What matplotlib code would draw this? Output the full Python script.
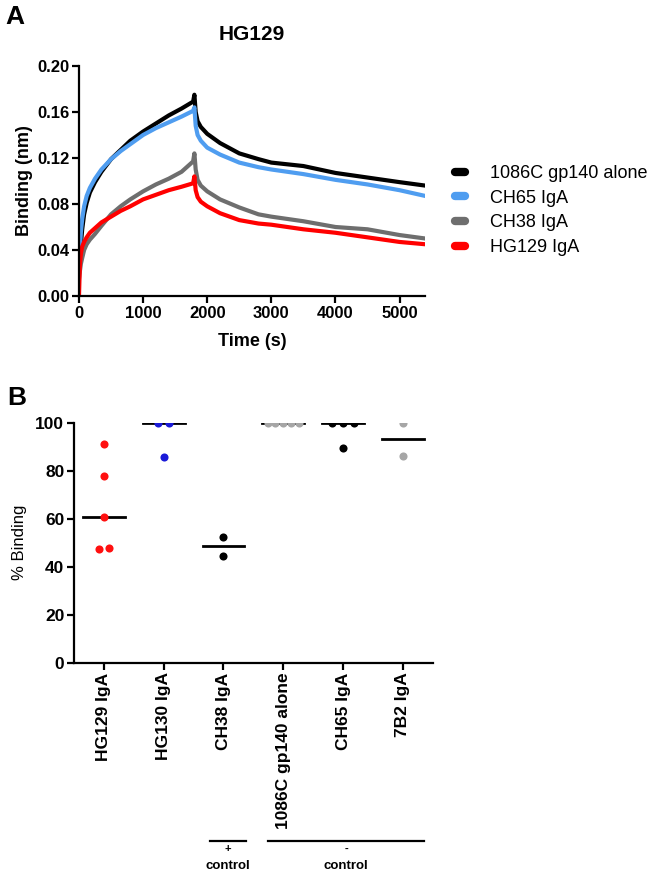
import numpy as np
import matplotlib
matplotlib.use("Agg")
import matplotlib.pyplot as plt
import matplotlib.transforms as mtransforms

plt.rcParams['font.family'] = ['Liberation Sans', 'DejaVu Sans']

# ---- Panel A: binding kinetics ----
time_s = [0, 15, 30, 50, 80, 120, 170, 250, 350, 500, 650, 800, 1000, 1200,
          1400, 1600, 1780, 1800, 1820, 1850, 1900, 2000, 2200, 2500, 2800,
          3000, 3500, 4000, 4500, 5000, 5400]
gp140_alone = [0.020, 0.033, 0.045, 0.058, 0.071, 0.081, 0.090, 0.099, 0.108,
               0.119, 0.127, 0.135, 0.143, 0.150, 0.157, 0.163, 0.169, 0.175,
               0.160, 0.152, 0.147, 0.141, 0.133, 0.124, 0.119, 0.116, 0.113,
               0.107, 0.103, 0.099, 0.096]
ch65_iga = [0.020, 0.042, 0.056, 0.067, 0.078, 0.087, 0.094, 0.102, 0.110,
            0.119, 0.126, 0.132, 0.140, 0.146, 0.151, 0.156, 0.161, 0.164,
            0.148, 0.140, 0.135, 0.129, 0.123, 0.116, 0.112, 0.110, 0.106,
            0.101, 0.097, 0.092, 0.087]
ch38_iga = [0.015, 0.022, 0.028, 0.033, 0.040, 0.045, 0.049, 0.054, 0.061,
            0.071, 0.078, 0.084, 0.091, 0.097, 0.102, 0.108, 0.117, 0.124,
            0.110, 0.101, 0.096, 0.091, 0.084, 0.077, 0.071, 0.069, 0.065,
            0.060, 0.058, 0.053, 0.050]
hg129_iga = [0.000, 0.028, 0.037, 0.043, 0.047, 0.051, 0.055, 0.059, 0.064,
             0.069, 0.074, 0.078, 0.084, 0.088, 0.092, 0.095, 0.098, 0.104,
             0.092, 0.086, 0.082, 0.078, 0.072, 0.066, 0.063, 0.062, 0.058,
             0.055, 0.051, 0.047, 0.045]
trace_labels = ['1086C gp140 alone', 'CH65 IgA', 'CH38 IgA', 'HG129 IgA']
trace_colors = ['#000000', '#4f9df0', '#6e6e6e', '#ff0000']

# ---- Panel B: % binding ----
groups = ['HG129 IgA', 'HG130 IgA', 'CH38 IgA', '1086C gp140 alone',
          'CH65 IgA', '7B2 IgA']
pct_hg129 = [91.1, 77.8, 60.8, 47.2, 47.9]
pct_hg130 = [100, 100, 85.6]
pct_ch38 = [52.5, 44.4]
pct_gp140 = [100, 100, 100, 100, 100]
pct_ch65 = [100, 100, 100, 89.3]
pct_7b2 = [100, 86.3]
group_colors = ['#ff1010', '#1a1ad8', '#000000', '#a6a6a6', '#000000', '#a6a6a6']


def spread(values, step):
    """GraphPad-like column scatter: side-by-side for equal values."""
    values = np.asarray(values, dtype=float)
    offs = np.zeros(len(values))
    used = np.zeros(len(values), bool)
    for i in range(len(values)):
        if used[i]:
            continue
        idx = [j for j in range(len(values)) if not used[j] and abs(values[j] - values[i]) < 2.5]
        for k, j in enumerate(idx):
            offs[j] = (k - (len(idx) - 1) / 2) * step
            used[j] = True
    return offs


fig = plt.figure(figsize=(6.56, 8.75), dpi=100)

# Panel A
axA = fig.add_axes([0.1204, 0.6617, 0.5278, 0.2629])
series = [gp140_alone, ch65_iga, ch38_iga, hg129_iga]
for vals, lab, col in zip(series, trace_labels, trace_colors):
    axA.plot(time_s, vals, color=col, lw=3.0, label=lab, solid_joinstyle='round')
axA.set_xlim(0, 5400)
axA.set_ylim(0, 0.20)
axA.set_xticks([0, 1000, 2000, 3000, 4000, 5000])
axA.set_yticks([0.00, 0.04, 0.08, 0.12, 0.16, 0.20])
axA.set_yticklabels(['0.00', '0.04', '0.08', '0.12', '0.16', '0.20'])
axA.set_xlabel('Time (s)', fontsize=13, fontweight='bold', labelpad=9)
axA.set_ylabel('Binding (nm)', fontsize=13, fontweight='bold', labelpad=3)
axA.set_title('HG129', fontsize=15, fontweight='bold', pad=19)
leg = axA.legend(loc='upper left', bbox_to_anchor=(1.065, 0.60), frameon=False,
                 fontsize=13, handlelength=0.55, handletextpad=1.38,
                 labelspacing=0.42, borderaxespad=0)
for h in leg.legend_handles:
    h.set_linewidth(6)
    h.set_solid_capstyle('round')

# Panel B
axB = fig.add_axes([0.1128, 0.2426, 0.5468, 0.2743])
for i, (vals, col) in enumerate(zip(
        [pct_hg129, pct_hg130, pct_ch38, pct_gp140, pct_ch65, pct_7b2], group_colors)):
    step = 0.13 if len(vals) >= 5 and len(set(vals)) == 1 else 0.18
    offs = spread(vals, step)
    axB.scatter(i + offs, vals, s=34, color=col, zorder=5, linewidths=0)
    med = np.median(vals)
    axB.plot([i - 0.35, i + 0.35], [med, med], color='black', lw=2, zorder=4)
axB.set_xlim(-0.5, 5.5)
axB.set_ylim(0, 100)
axB.set_yticks([0, 20, 40, 60, 80, 100])
axB.set_xticks(range(len(groups)))
axB.set_xticklabels(groups, rotation=90, fontsize=12.5, fontweight='bold')
axB.set_ylabel('% Binding', fontsize=12, labelpad=6)

for ax in (axA, axB):
    for s in ('top', 'right'):
        ax.spines[s].set_visible(False)
    for s in ('left', 'bottom'):
        ax.spines[s].set_linewidth(1.6)
    ax.tick_params(direction='out', length=5, width=1.6, labelsize=12, pad=2)
    for lab in ax.get_yticklabels():
        lab.set_fontweight('bold')
for lab in axA.get_xticklabels():
    lab.set_fontweight('bold')
axB.tick_params(axis='x', labelsize=12.5)
axB.tick_params(axis='y', labelsize=12.5)

# control brackets below panel B
trans = mtransforms.blended_transform_factory(axB.transData, fig.transFigure)
y_line = 1 - 841 / 875
for x0, x1, sign in [(1.78, 2.38, '+'), (2.75, 5.35, '-')]:
    axB.plot([x0, x1], [y_line, y_line], color='black', lw=1.6,
             transform=trans, clip_on=False)
    xc = (x0 + x1) / 2
    axB.text(xc, 1 - 849 / 875, sign, transform=trans, ha='center', va='center',
             fontsize=8, fontweight='bold')
    axB.text(xc, 1 - 866 / 875, 'control', transform=trans, ha='center',
             va='center', fontsize=9.5, fontweight='bold')

fig.text(5 / 656, 1 - 17 / 875, 'A', fontsize=19, fontweight='bold',
         ha='left', va='center')
fig.text(7 / 656, 1 - 398 / 875, 'B', fontsize=19, fontweight='bold',
         ha='left', va='center')

fig.savefig('out.png', dpi=100)
